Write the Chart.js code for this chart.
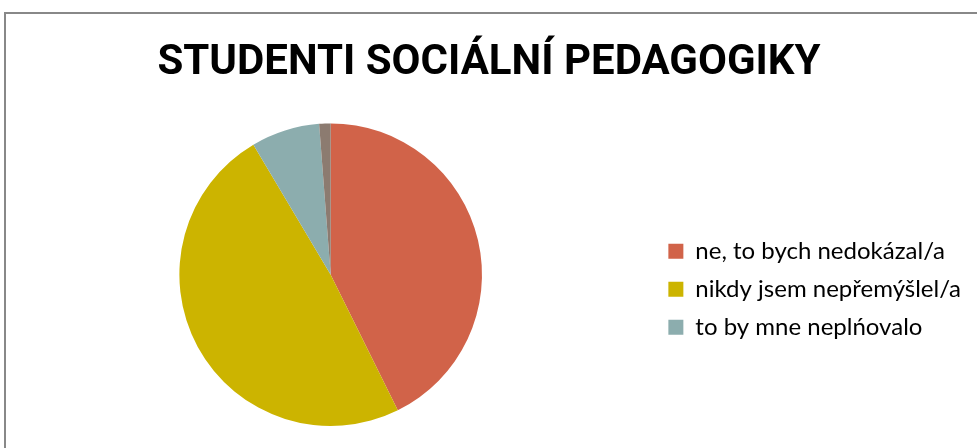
<!DOCTYPE html>
<html lang="cs">
<head>
<meta charset="utf-8">
<title>Studenti sociální pedagogiky</title>
<script src="https://cdn.jsdelivr.net/npm/chart.js@4/dist/chart.umd.min.js"></script>
<style>
    html, body { margin: 0; padding: 0; background: #fff; overflow: hidden; }
    #wrap { position: relative; width: 977px; height: 448px; }
    #ramecek {
        position: absolute; left: 4px; top: 12px;
        width: 1000px; height: 500px;
        border: 2px solid #888888;
    }
    canvas { position: absolute; left: 0; top: 0; }
</style>
</head>
<body>
<div id="wrap">
    <div id="ramecek"></div>
    <canvas id="grafKolac" width="977" height="448"></canvas>
</div>
<script>
const nadpis = 'STUDENTI SOCIÁLNÍ PEDAGOGIKY';
const odpovedi = ['ne, to bych nedokázal/a', 'nikdy jsem nepřemýšlel/a', 'to by mne neplńovalo', 'ano'];
const pocty = [35, 40, 6, 1];
const barvy = ['#D16349', '#CCB400', '#8CADAE', '#8C7B70'];

document.addEventListener("DOMContentLoaded", function () {
    const ctx = document.getElementById('grafKolac').getContext('2d');
    new Chart(ctx, {
        type: 'pie',
        data: {
            labels: odpovedi,
            datasets: [{
                data: pocty,
                backgroundColor: barvy,
                borderWidth: 0
            }]
        },
        options: {
            responsive: false,
            animation: false,
            layout: {
                padding: { top: 12, left: 7, right: 6, bottom: 22 }
            },
            plugins: {
                title: {
                    display: true,
                    text: nadpis,
                    color: '#000',
                    font: { family: "Roboto, 'Liberation Sans', sans-serif", size: 42, weight: 'bold' },
                    padding: { top: 26, bottom: 35 }
                },
                legend: {
                    position: 'right',
                    fullSize: false,
                    // jen první tři odpovědi v legendě
                    labels: {
                        filter: function (item) { return item.index < 3; },
                        boxWidth: 15,
                        boxHeight: 15,
                        padding: 14,
                        color: '#000',
                        font: { family: 'Lato, sans-serif', size: 24 }
                    },
                    // prázdný titulek posune položky trochu níž
                    title: {
                        display: true,
                        text: ' ',
                        font: { size: 10 },
                        padding: { top: 0, bottom: 17 }
                    }
                },
                tooltip: { enabled: false }
            }
        }
    });
});
</script>
</body>
</html>
